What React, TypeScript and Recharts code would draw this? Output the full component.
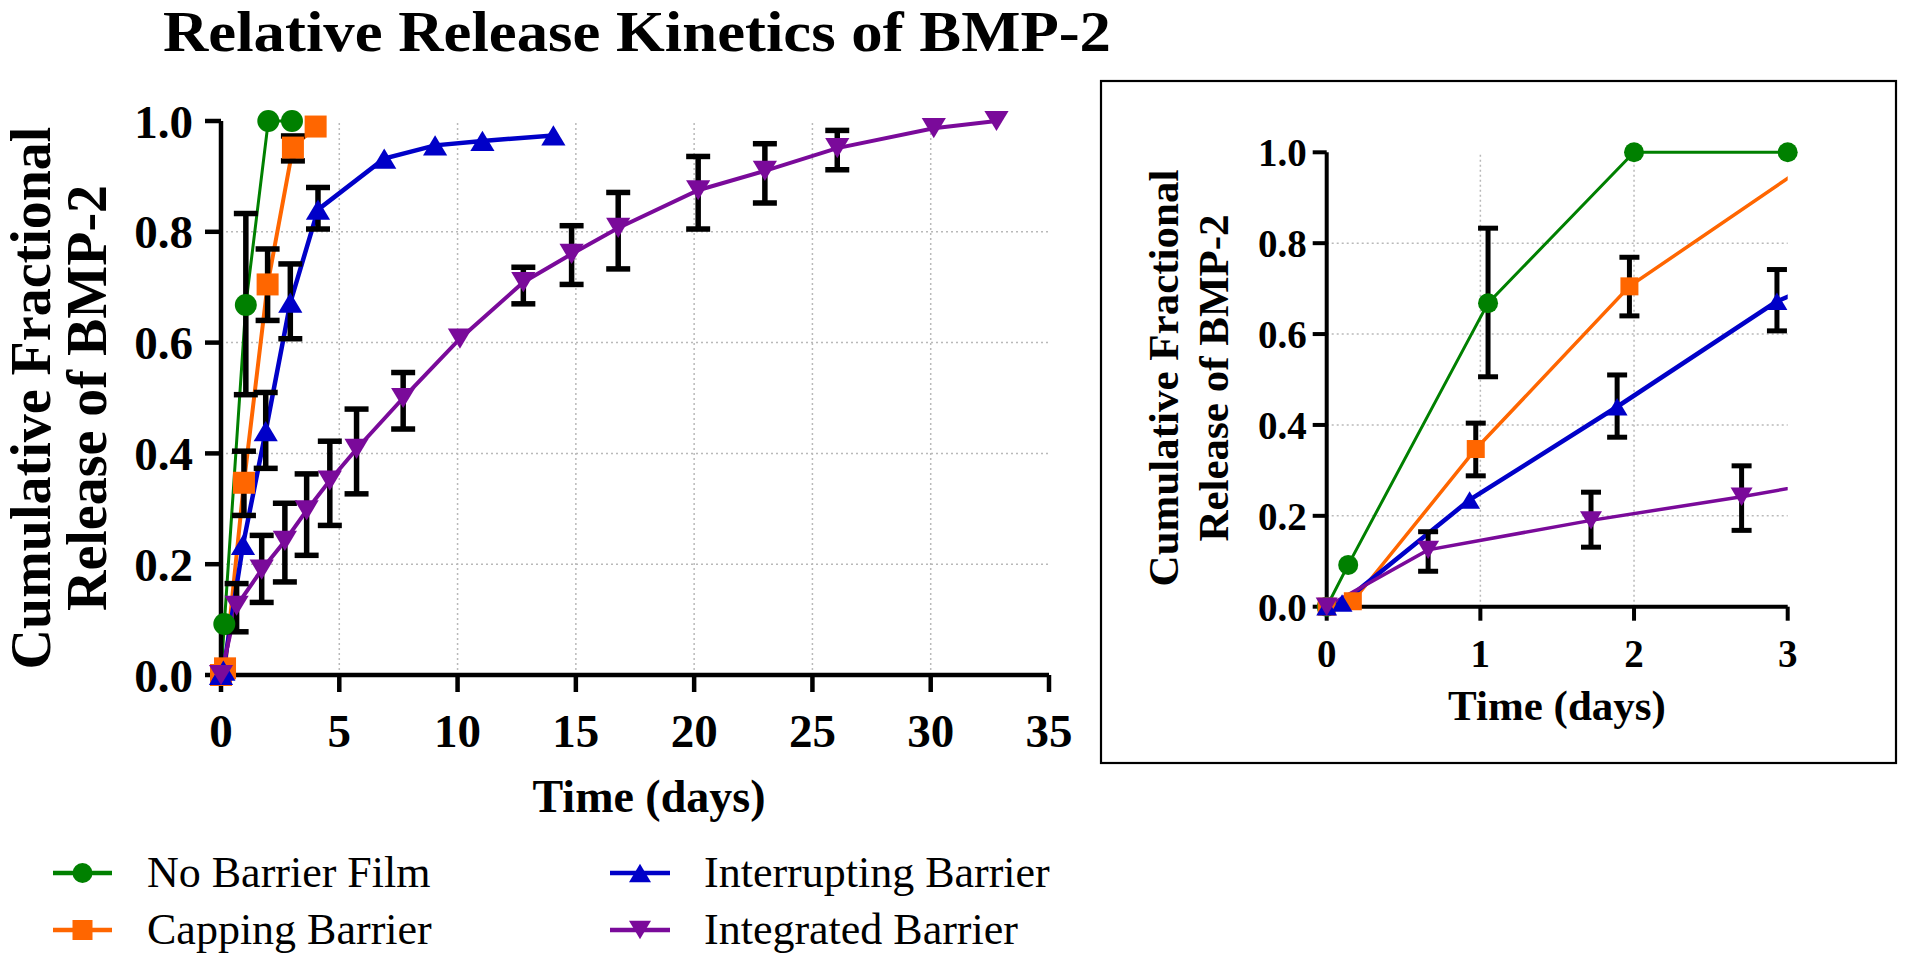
import React from 'react';
import { LineChart, Line, XAxis, YAxis, ReferenceLine } from 'recharts';

const FONT = '"Liberation Serif", "Times New Roman", Times, serif';

// ---------- data ----------
const seriesNames = ['No Barrier Film', 'Capping Barrier', 'Interrupting Barrier', 'Integrated Barrier'];
const seriesColors = ['#008000', '#FF6600', '#0000C8', '#7A0A9A'];
const seriesShapes = ['circle', 'square', 'triangle', 'triangleDown'];

const noBarrierDays = [0, 0.14, 1.05, 2.0, 3.0];
const noBarrierRelease = [0, 0.092, 0.668, 1.0, 1.0];
const noBarrierLow = [null, null, 0.506, null, null];
const noBarrierHigh = [null, null, 0.833, null, null];

const cappingDays = [0, 0.17, 0.97, 1.97, 3.04, 4.0];
const cappingRelease = [0, 0.012, 0.347, 0.705, 0.952, 0.99];
const cappingLow = [null, null, 0.288, 0.64, 0.928, null];
const cappingHigh = [null, null, 0.404, 0.769, 0.973, null];

const interruptDays = [0, 0.1, 0.93, 1.89, 2.93, 4.1, 6.9, 9.05, 11.05, 14.05];
const interruptRelease = [0, 0.008, 0.235, 0.44, 0.672, 0.84, 0.932, 0.956, 0.964, 0.974];
const interruptLow = [null, null, null, 0.373, 0.607, 0.805, null, null, null, null];
const interruptHigh = [null, null, null, 0.51, 0.742, 0.88, null, null, null, null];

const integratedDays = [0, 0.66, 1.72, 2.7, 3.62, 4.6, 5.73, 7.7, 10.1, 12.78, 14.82, 16.79, 20.17, 22.99, 26.05, 30.13, 32.78];
const integratedRelease = [0, 0.125, 0.19, 0.242, 0.297, 0.351, 0.408, 0.5, 0.607, 0.709, 0.76, 0.807, 0.875, 0.91, 0.951, 0.987, 1.0];
const integratedLow = [null, 0.078, 0.131, 0.168, 0.216, 0.27, 0.327, 0.444, null, 0.67, 0.705, 0.733, 0.805, 0.852, 0.912, null, null];
const integratedHigh = [null, 0.165, 0.252, 0.31, 0.363, 0.422, 0.48, 0.546, null, 0.736, 0.811, 0.871, 0.936, 0.959, 0.983, null, null];

const mainXTicks = [0, 5, 10, 15, 20, 25, 30, 35];
const mainYTicks = [0, 0.2, 0.4, 0.6, 0.8, 1.0];
const mainGridX = [5, 10, 15, 20, 25, 30];
const gridY = [0.2, 0.4, 0.6, 0.8];
const insetXTicks = [0, 1, 2, 3];
const insetGridX = [1, 2];

const titleText = 'Relative Release Kinetics of BMP-2';
const yTitleLines = ['Cumulative Fractional', 'Release of BMP-2'];
const xTitleText = 'Time (days)';

// ---------- build tables ----------
type Pt = { x: number; y: number; lo: number | null; hi: number | null };
function build(xs: number[], ys: number[], lo: (number | null)[], hi: (number | null)[]): Pt[] {
  return xs.map((x, i) => ({ x, y: ys[i], lo: lo[i], hi: hi[i] }));
}
const seriesData: Pt[][] = [
  build(noBarrierDays, noBarrierRelease, noBarrierLow, noBarrierHigh),
  build(cappingDays, cappingRelease, cappingLow, cappingHigh),
  build(interruptDays, interruptRelease, interruptLow, interruptHigh),
  build(integratedDays, integratedRelease, integratedLow, integratedHigh),
];
const insetMax = insetXTicks[insetXTicks.length - 1];
const insetMarkerData = seriesData.map((d) => d.filter((p) => p.x <= insetMax));

// ---------- marker ----------
function Marker({ shape, cx, cy, size, color }: any) {
  if (cx == null || cy == null || isNaN(cx) || isNaN(cy)) return null;
  const h = size / 2;
  if (shape === 'circle') return <circle cx={cx} cy={cy} r={h} fill={color} />;
  if (shape === 'square') return <rect x={cx - h} y={cy - h} width={size} height={size} fill={color} />;
  const w = size * 0.55;
  const th = size * 0.46;
  if (shape === 'triangle')
    return <polygon points={`${cx},${cy - th} ${cx - w},${cy + th} ${cx + w},${cy + th}`} fill={color} />;
  return <polygon points={`${cx},${cy + th} ${cx - w},${cy - th} ${cx + w},${cy - th}`} fill={color} />;
}

// error bar drawn as a reference segment with caps
function makeErrShape(capHalf: number, sw: number) {
  return (p: any) => {
    const { x1, y1, x2, y2 } = p;
    if ([x1, y1, x2, y2].some((v) => v == null || isNaN(v))) return <g />;
    return (
      <g stroke="#000" strokeWidth={sw} fill="none">
        <line x1={x1} y1={y1} x2={x2} y2={y2} />
        <line x1={x1 - capHalf} y1={y1} x2={x1 + capHalf} y2={y1} />
        <line x1={x2 - capHalf} y1={y2} x2={x2 + capHalf} y2={y2} />
      </g>
    );
  };
}
const mainErrShape = makeErrShape(12, 5.5);
const insetErrShape = makeErrShape(10, 5);

function errorBars(data: Pt[][], shape: any, prefix: string) {
  const out: any[] = [];
  data.forEach((d, si) =>
    d.forEach((p, i) => {
      if (p.lo == null || p.hi == null) return;
      out.push(
        <ReferenceLine
          key={`${prefix}${si}-${i}`}
          segment={[
            { x: p.x, y: p.lo },
            { x: p.x, y: p.hi },
          ]}
          stroke="#000"
          strokeWidth={5}
          shape={shape}
          ifOverflow="visible"
        />
      );
    })
  );
  return out;
}

const lineWidthsMain = [3, 4, 4.5, 4];
const lineWidthsInset = [3, 3.5, 4.5, 3.5];
const markerSizeMain = [22, 22, 22, 22];
const markerSizeInset = [20, 18, 19, 20];

const gridStyle = { stroke: '#b9b9b9', strokeDasharray: '2 3', strokeWidth: 1.5 };

function MainChart() {
  return (
    <LineChart width={1100} height={800} margin={{ top: 121, right: 51, bottom: 65, left: 121 }}>
      <XAxis
        type="number"
        dataKey="x"
        domain={[0, 35]}
        ticks={mainXTicks}
        interval={0}
        height={60}
        axisLine={{ stroke: '#000', strokeWidth: 4.5 }}
        tickLine={{ stroke: '#000', strokeWidth: 4.5 }}
        tickSize={17}
        tickMargin={22}
        tick={{ fill: '#000', fontSize: 47, fontWeight: 700, fontFamily: FONT }}
      />
      <YAxis
        type="number"
        domain={[0, 1]}
        ticks={mainYTicks}
        interval={0}
        width={100}
        tickFormatter={(v: number) => v.toFixed(1)}
        axisLine={{ stroke: '#000', strokeWidth: 4.5 }}
        tickLine={{ stroke: '#000', strokeWidth: 4.5 }}
        tickSize={16}
        tickMargin={12}
        tick={{ fill: '#000', fontSize: 47, fontWeight: 700, fontFamily: FONT }}
      />
      {mainGridX.map((v) => (
        <ReferenceLine key={`gx${v}`} x={v} {...gridStyle} />
      ))}
      {gridY.map((v) => (
        <ReferenceLine key={`gy${v}`} y={v} {...gridStyle} />
      ))}
      {seriesData.map((d, si) => (
        <Line
          key={`ln-${seriesNames[si]}`}
          data={d}
          dataKey="y"
          name={seriesNames[si]}
          type="linear"
          stroke={seriesColors[si]}
          strokeWidth={lineWidthsMain[si]}
          isAnimationActive={false}
          dot={false}
          activeDot={false}
        />
      ))}
      {errorBars(seriesData, mainErrShape, 'me')}
      {seriesData.map((d, si) => (
        <Line
          key={`mk-${seriesNames[si]}`}
          data={d}
          dataKey="y"
          type="linear"
          stroke="none"
          strokeWidth={0}
          isAnimationActive={false}
          dot={(p: any) => (
            <Marker
              key={`m${si}-${p.index}`}
              shape={seriesShapes[si]}
              cx={p.cx}
              cy={p.cy}
              size={markerSizeMain[si]}
              color={seriesColors[si]}
            />
          )}
          activeDot={false}
        />
      ))}
    </LineChart>
  );
}

function InsetChart() {
  return (
    <LineChart width={760} height={620} margin={{ top: 62.3, right: 82.3, bottom: 53.3, left: 136.7 }}>
      <XAxis
        xAxisId={0}
        type="number"
        dataKey="x"
        domain={[0, 3]}
        ticks={insetXTicks}
        interval={0}
        height={50}
        axisLine={{ stroke: '#000', strokeWidth: 4 }}
        tickLine={{ stroke: '#000', strokeWidth: 4 }}
        tickSize={14}
        tickMargin={19}
        tick={{ fill: '#000', fontSize: 39, fontWeight: 700, fontFamily: FONT }}
      />
      <XAxis xAxisId="clip" type="number" dataKey="x" domain={[0, 3]} allowDataOverflow hide />
      <YAxis
        type="number"
        domain={[0, 1]}
        ticks={mainYTicks}
        interval={0}
        width={80}
        tickFormatter={(v: number) => v.toFixed(1)}
        axisLine={{ stroke: '#000', strokeWidth: 4 }}
        tickLine={{ stroke: '#000', strokeWidth: 4 }}
        tickSize={14}
        tickMargin={6}
        tick={{ fill: '#000', fontSize: 39, fontWeight: 700, fontFamily: FONT }}
      />
      {insetGridX.map((v) => (
        <ReferenceLine key={`igx${v}`} x={v} {...gridStyle} />
      ))}
      {gridY.map((v) => (
        <ReferenceLine key={`igy${v}`} y={v} {...gridStyle} />
      ))}
      {seriesData.map((d, si) => (
        <Line
          key={`clip-${seriesNames[si]}`}
          xAxisId="clip"
          data={d}
          dataKey="y"
          type="linear"
          stroke={seriesColors[si]}
          strokeWidth={lineWidthsInset[si]}
          isAnimationActive={false}
          dot={false}
          activeDot={false}
        />
      ))}
      {errorBars(insetMarkerData, insetErrShape, 'ie')}
      {insetMarkerData.map((d, si) => (
        <Line
          key={`mk-${seriesNames[si]}`}
          xAxisId={0}
          data={d}
          dataKey="y"
          type="linear"
          stroke="none"
          strokeWidth={0}
          isAnimationActive={false}
          dot={(p: any) => (
            <Marker
              key={`im${si}-${p.index}`}
              shape={seriesShapes[si]}
              cx={p.cx}
              cy={p.cy}
              size={markerSizeInset[si]}
              color={seriesColors[si]}
            />
          )}
          activeDot={false}
        />
      ))}
    </LineChart>
  );
}

function Overlay() {
  const legendItems = [
    { col: 0, row: 0, s: 0 },
    { col: 0, row: 1, s: 1 },
    { col: 1, row: 0, s: 2 },
    { col: 1, row: 1, s: 3 },
  ];
  const colSym = [[53, 112], [610, 670]];
  const colText = [147, 704];
  const rowY = [873, 930];
  return (
    <svg width={1920} height={962} style={{ position: 'absolute', left: 0, top: 0, pointerEvents: 'none' }}>
      <text
        x={163}
        y={51}
        fontFamily={FONT}
        fontWeight={700}
        fontSize={57}
        fill="#000"
        textLength={948}
        lengthAdjust="spacingAndGlyphs"
      >
        {titleText}
      </text>
      {/* main y title */}
      <g transform="translate(50,398) rotate(-90)">
        <text x={0} y={0} textAnchor="middle" fontFamily={FONT} fontWeight={700} fontSize={56} fill="#000">
          {yTitleLines[0]}
        </text>
      </g>
      <g transform="translate(106,398) rotate(-90)">
        <text x={0} y={0} textAnchor="middle" fontFamily={FONT} fontWeight={700} fontSize={56} fill="#000">
          {yTitleLines[1]}
        </text>
      </g>
      <text x={649} y={812} textAnchor="middle" fontFamily={FONT} fontWeight={700} fontSize={46} fill="#000">
        {xTitleText}
      </text>
      {/* inset frame */}
      <rect x={1101} y={81} width={795} height={682} fill="none" stroke="#000" strokeWidth={2.2} />
      <g transform="translate(1178,378) rotate(-90)">
        <text x={0} y={0} textAnchor="middle" fontFamily={FONT} fontWeight={700} fontSize={43} fill="#000">
          {yTitleLines[0]}
        </text>
      </g>
      <g transform="translate(1228,378) rotate(-90)">
        <text x={0} y={0} textAnchor="middle" fontFamily={FONT} fontWeight={700} fontSize={43} fill="#000">
          {yTitleLines[1]}
        </text>
      </g>
      <text x={1557} y={720} textAnchor="middle" fontFamily={FONT} fontWeight={700} fontSize={43} fill="#000">
        {xTitleText}
      </text>
      {/* legend */}
      {legendItems.map((it) => {
        const [x1, x2] = colSym[it.col];
        const y = rowY[it.row];
        return (
          <g key={seriesNames[it.s]}>
            <line x1={x1} y1={y} x2={x2} y2={y} stroke={seriesColors[it.s]} strokeWidth={4.5} />
            <Marker shape={seriesShapes[it.s]} cx={(x1 + x2) / 2} cy={y} size={20} color={seriesColors[it.s]} />
            <text x={colText[it.col]} y={y + 14} fontFamily={FONT} fontSize={44} fill="#000">
              {seriesNames[it.s]}
            </text>
          </g>
        );
      })}
    </svg>
  );
}

export default function App() {
  return (
    <div style={{ position: 'absolute', left: 0, top: 0, width: 1920, height: 962, background: '#fff' }}>
      <div style={{ position: 'absolute', left: 0, top: 0 }}>
        <MainChart />
      </div>
      <div style={{ position: 'absolute', left: 1110, top: 90 }}>
        <InsetChart />
      </div>
      <Overlay />
    </div>
  );
}
